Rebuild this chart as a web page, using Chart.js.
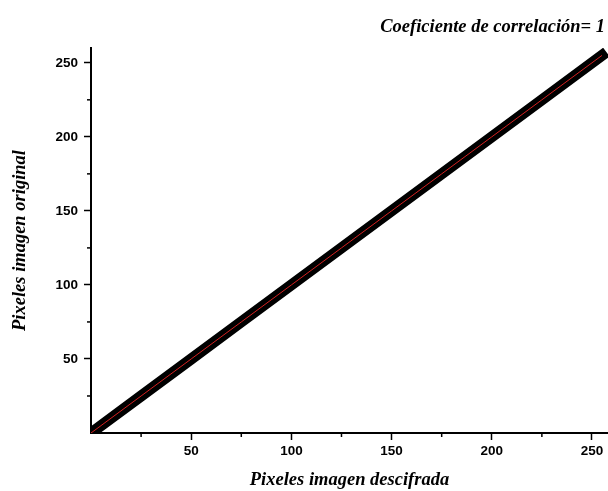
<!DOCTYPE html>
<html>
<head>
<meta charset="utf-8">
<script src="https://cdn.jsdelivr.net/npm/chart.js@4"></script>
<style>
  html, body { margin: 0; padding: 0; background: #fff; }
  #wrap { width: 608px; height: 491px; position: relative; }
</style>
</head>
<body>
<div id="wrap"><canvas id="chart"></canvas></div>
<script>
// values: the points sit on y = x
const xValues = [0, 25, 50, 75, 100, 125, 150, 175, 200, 225, 255];
const yValues = [0, 25, 50, 75, 100, 125, 150, 175, 200, 225, 255];
const majorTicks = [50, 100, 150, 200, 250];
const minorTicks = [25, 75, 125, 175, 225];

const titleText = "Coeficiente de correlación= 1";
const xTitle = "Pixeles imagen descifrada";
const yTitle = "Pixeles imagen original";

let points = [];
for (let i = 0; i < xValues.length; i++) {
  points.push({ x: xValues[i], y: yValues[i] });
}

// draws the short minor ticks and the text at the top
const extras = {
  id: "extras",
  afterDraw(chart) {
    const ctx = chart.ctx;
    const xs = chart.scales.x;
    const ys = chart.scales.y;
    ctx.save();
    ctx.strokeStyle = "#000";
    ctx.lineWidth = 1.5;
    for (let i = 0; i < minorTicks.length; i++) {
      let px = xs.getPixelForValue(minorTicks[i]);
      ctx.beginPath();
      ctx.moveTo(px, ys.bottom);
      ctx.lineTo(px, ys.bottom + 4);
      ctx.stroke();
      let py = ys.getPixelForValue(minorTicks[i]);
      ctx.beginPath();
      ctx.moveTo(xs.left, py);
      ctx.lineTo(xs.left - 4, py);
      ctx.stroke();
    }
    ctx.fillStyle = "#000";
    ctx.font = "italic bold 18.5px 'Liberation Serif', 'Times New Roman', serif";
    ctx.textAlign = "right";
    ctx.textBaseline = "middle";
    ctx.fillText(titleText, 605, 27);
    ctx.restore();
  }
};

const tickFont = { family: "'Liberation Sans', Arial, sans-serif", size: 13.5, weight: "bold" };
const titleFont = { family: "'Liberation Serif', 'Times New Roman', serif", size: 18.5, weight: "bold", style: "italic" };

new Chart(document.getElementById("chart"), {
  type: "line",
  data: {
    datasets: [
      {
        // red fit line, drawn on top
        data: points,
        borderColor: "#d42020",
        borderWidth: 1,
        pointRadius: 0,
        fill: false
      },
      {
        data: points,
        borderColor: "#000",
        borderWidth: 11,
        pointRadius: 0,
        fill: false,
        borderCapStyle: "square"
      }
    ]
  },
  options: {
    responsive: true,
    maintainAspectRatio: false,
    animation: false,
    layout: { padding: { top: 48, right: 0, left: 0, bottom: 0 } },
    plugins: {
      legend: { display: false },
      tooltip: { enabled: false }
    },
    scales: {
      x: {
        type: "linear",
        min: 0,
        max: 258,
        afterBuildTicks: function(scale) {
          scale.ticks = majorTicks.map(v => ({ value: v }));
        },
        afterFit: function(scale) { scale.height = 58; },
        grid: { display: true, drawOnChartArea: false, drawTicks: true, tickLength: 7, tickWidth: 1.5, tickColor: "#000" },
        border: { display: true, color: "#000", width: 2 },
        ticks: { color: "#000", font: tickFont, padding: 3, maxRotation: 0 },
        title: { display: true, text: xTitle, color: "#000", font: titleFont, padding: { top: 5, bottom: 0 } }
      },
      y: {
        type: "linear",
        min: 0,
        max: 260,
        afterBuildTicks: function(scale) {
          scale.ticks = majorTicks.map(v => ({ value: v }));
        },
        afterFit: function(scale) { scale.width = 91; },
        grid: { display: true, drawOnChartArea: false, drawTicks: true, tickLength: 7, tickWidth: 1.5, tickColor: "#000" },
        border: { display: true, color: "#000", width: 2 },
        ticks: { color: "#000", font: tickFont, padding: 6 },
        title: { display: true, text: yTitle, color: "#000", font: titleFont, padding: { top: 9, bottom: 0 } }
      }
    }
  },
  plugins: [extras]
});
</script>
</body>
</html>
